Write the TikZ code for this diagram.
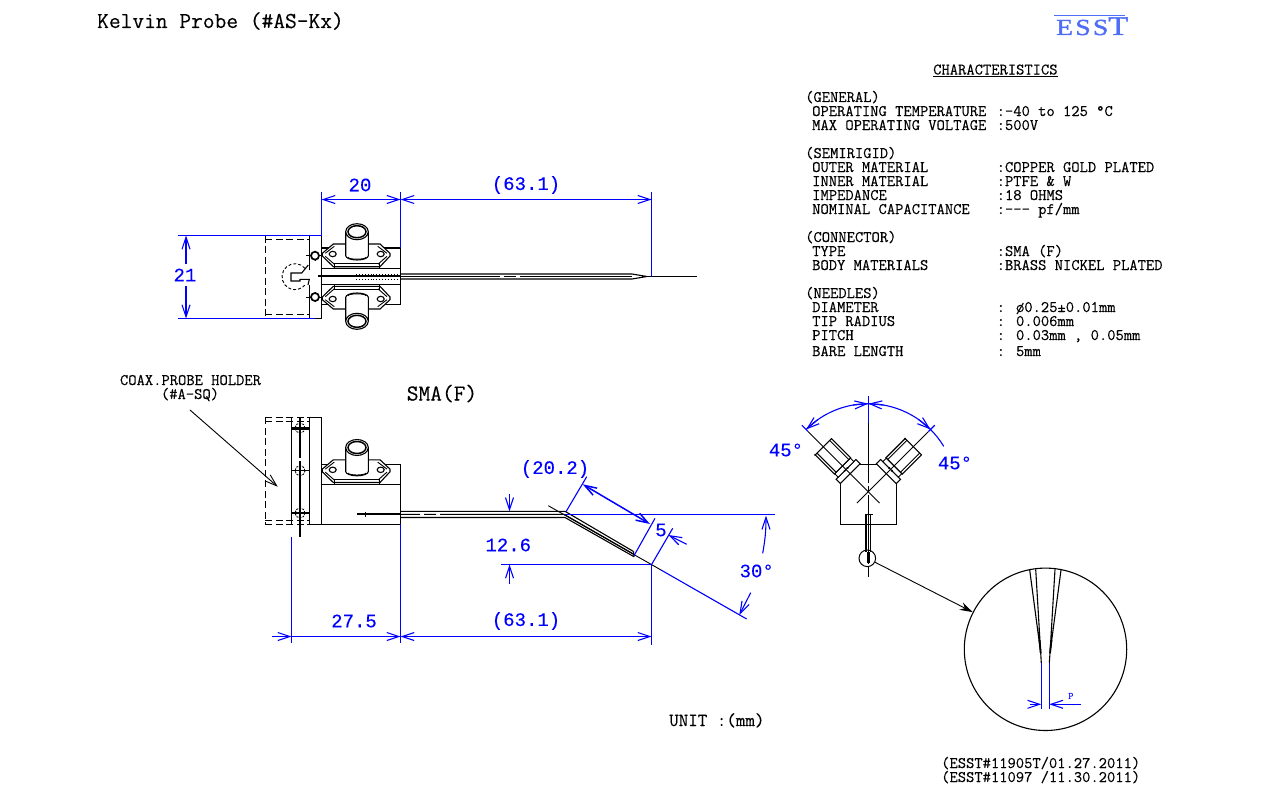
\documentclass[tikz,border=0pt]{standalone}
\usepackage{fontspec}
\newfontfamily\specfont[FakeBold=0.25]{Latin Modern Mono}
\newfontfamily\dimfont[FakeBold=0.15]{Liberation Mono}
\newfontfamily\logofont[LetterSpace=10,FakeStretch=1.2,FakeBold=1.6]{Liberation Serif}
\usetikzlibrary{arrows.meta}
\definecolor{dimblue}{RGB}{0,0,255}
\definecolor{logoblue}{RGB}{80,110,245}
\tikzset{
  part/.style={draw=black,line width=1.1pt},
  fine/.style={draw=black,line width=.9pt},
  hidden/.style={draw=black,line width=1.1pt,dash pattern=on 7pt off 3.5pt},
  dimline/.style={draw=dimblue,line width=1.1pt},
  dimtip/.style={dimline,-{Straight Barb[length=12pt,width=8pt]}},
  dimboth/.style={dimline,{Straight Barb[length=12pt,width=8pt]}-{Straight Barb[length=12pt,width=8pt]}},
  dimtext/.style={text=dimblue,inner sep=0pt,font=\fontsize{19}{19}\selectfont\dimfont},
  spec/.style={anchor=base west,inner sep=0pt,font=\fontsize{16.1}{16.1}\selectfont\specfont},
  title/.style={anchor=base,inner sep=0pt,font=\fontsize{22.8}{22.8}\selectfont\specfont},
  sma/.pic={
    % flange, then barrel on top of it
    \draw[part,fill=white] (-34.7,21.6)--(-23.7,12.3)--(23,12.3)--(33,21.6)--(33,24.3)--(23,35)--(-23.7,35)--(-34.7,24.3)--cycle;
    \draw[fine] (-31.7,21.6)--(-22.7,14.6) (20.7,14.6)--(30,21.6) (-31.7,24.6)--(-22.7,32.5) (21,32.5)--(30,24.6);
    \draw[part] (-22.7,31.8) rectangle (22.3,36.8);
    \draw[part] (-24.3,22.3) ellipse [x radius=3.5pt,y radius=2.7pt];
    \draw[part] (23.7,22.3) ellipse [x radius=3.5pt,y radius=2.7pt];
    \draw[part,fill=white] (-11.3,0)--(-11.3,24) arc[start angle=180,end angle=360,x radius=11.3pt,y radius=4.3pt]--(11.3,0);
    \draw[part,fill=white] (0,0) ellipse [x radius=11.3pt,y radius=8pt];
    \draw[line width=1.5pt] (0,0) ellipse [x radius=9pt,y radius=6pt];
    \draw[fine] (-9,25.5) arc[start angle=180,end angle=360,x radius=9pt,y radius=2pt];
  },
  bent/.pic={
    % one connector of the front view, along its axis
    \draw[part,fill=white] (25.5,-14) rectangle (31.5,14);
    \draw[fine,fill=white] (31.5,-11) rectangle (36.5,11);
    \draw[part,fill=white] (36.5,-11.5) rectangle (63.6,11.5);
    \draw[fine] (36.5,-9) -- (63.6,-9) (36.5,9) -- (63.6,9);
    \fill (31.5,-2) circle (1.2pt) (31.5,2) circle (1.2pt) (63.6,-11.5) circle (1.2pt);
    \draw[fine] (-16,0) -- (85,0);
    \draw[dimline] (85,0) -- (94,0);
  },
  screw/.pic={
    \draw[fine] (-9,0) -- (8,0) (0,-5) -- (0,5);
    \draw[line width=1.7pt,fill=white] (0,0) circle (4pt);
  },
  pin/.pic={
    \draw[fine,dash pattern=on 2pt off 1.2pt] (0,0) circle (5pt);
    \draw[part] (-9,0) -- (9,0) (0,-8) -- (0,8);
  }
}
\begin{document}
\begin{tikzpicture}[x=1pt,y=-1pt]
    \useasboundingbox (0,0) rectangle (1280,800);

    \node[title,anchor=base west] (pageTitle) at (97,28){Kelvin Probe (\#AS-Kx)};
    \node[inner sep=0pt,text=logoblue,anchor=base west,font=\fontsize{23}{23}\selectfont\logofont] (logo) at (1056,35){ESS\fontsize{27}{27}\selectfont T};
    \draw[draw=logoblue,line width=1.4pt] (1054,15.5)--(1125,15.5);

    % characteristics
    \node[spec] (specHead) at (933,74.5){\underline{CHARACTERISTICS}};
    \node[spec] (general) at (805,102){(GENERAL)};
    \node[spec] (opTemp) at (812,116){OPERATING TEMPERATURE};
    \node[spec] (opTempVal) at (996.5,116){:-40 to 125 °C};
    \node[spec] (opVolt) at (812,130){MAX OPERATING VOLTAGE};
    \node[spec] (opVoltVal) at (996.5,130){:500V};
    \node[spec] (semirigid) at (805,158){(SEMIRIGID)};
    \node[spec] (outer) at (812,172){OUTER MATERIAL};
    \node[spec] (outerVal) at (996.5,172){:COPPER GOLD PLATED};
    \node[spec] (inner) at (812,186){INNER MATERIAL};
    \node[spec] (innerVal) at (996.5,186){:PTFE \& W};
    \node[spec] (imped) at (812,200){IMPEDANCE};
    \node[spec] (impedVal) at (996.5,200){:18 OHMS};
    \node[spec] (capac) at (812,214){NOMINAL CAPACITANCE};
    \node[spec] (capacVal) at (996.5,214){:--{}- pf/mm};
    \node[spec] (connector) at (805,242){(CONNECTOR)};
    \node[spec] (type) at (812,256){TYPE};
    \node[spec] (typeVal) at (996.5,256){:SMA (F)};
    \node[spec] (body) at (812,270){BODY MATERIALS};
    \node[spec] (bodyVal) at (996.5,270){:BRASS NICKEL PLATED};
    \node[spec] (needles) at (805,298){(NEEDLES)};
    \node[spec] (diam) at (812,312){DIAMETER};
    \node[spec] (diamVal) at (996.5,312){: ø0.25±0.01mm};
    \node[spec] (radius) at (812,326){TIP RADIUS};
    \node[spec] (radiusVal) at (996.5,326){: 0.006mm};
    \node[spec] (pitch) at (812,340){PITCH};
    \node[spec] (pitchVal) at (996.5,340){: 0.03mm , 0.05mm};
    \node[spec] (bare) at (812,356){BARE LENGTH};
    \node[spec] (bareVal) at (996.5,356){: 5mm};

    % top view
    \draw[hidden] (265.3,235.5)--(265.3,318.3);
    \draw[hidden] (265.3,239.3)--(309.3,239.3) (265.3,314.3)--(309.3,314.3);
    \draw[part] (309.3,270)--(309.3,235.5)--(321.3,235.5)--(321.3,318.3)--(309.3,318.3)--(309.3,285);
    \draw[part] (321.3,248) rectangle (400.5,304.5);
    \draw[part] (321.3,268.7)--(400.5,268.7) (321.3,284.7)--(400.5,284.7);
    \draw[part] (318,276)--(400.5,276);
    \draw[fine,dotted] (356,274)--(397,274) (356,279)--(397,279);
    \pic at (357,231.7) {sma};
    \pic[yscale=-1] at (357,321.3) {sma};
    \pic at (315,255.7) {screw};
    \pic at (315,297) {screw};
    \draw[fine,dash pattern=on 3pt off 2pt] (305,268.3) arc[start angle=40,end angle=320,radius=13pt];
    \draw[part] (308.3,265)--(301.7,273)--(291,273)--(291,281)--(300,281)--(300,279.3)--(309.3,279.3)--(308,285);
    \draw[part] (400.5,274)--(632,274)--(647,276.5) (400.5,279)--(632,279)--(647,276.5);
    \draw[part] (400.5,276.5)--(500,276.5) (504,276.5)--(516,276.5) (520,276.5)--(632,276.5);
    \draw[part] (647,276.5)--(697,276.5);

    % top view dimensions
    \draw[dimline] (321.5,192)--(321.5,235.5) (400.5,192)--(400.5,248) (651.5,192)--(651.5,276.5);
    \draw[dimboth] (321.5,199.5)--(400.5,199.5);
    \draw[dimboth] (400.5,199.5)--(651.5,199.5);
    \node[dimtext] (dimTwenty) at (360,185){20};
    \node[dimtext] (dimLenTop) at (526,185){(63.1)};
    \draw[dimline] (178,235.5)--(321.5,235.5) (178,318.5)--(315,318.5);
    \draw[dimtip] (186,264)--(186,235.5);
    \draw[dimtip] (186,286)--(186,318.5);
    \node[dimtext] (dimHeight) at (185,275){21};

    % side view
    \draw[hidden] (265.3,417.3)--(265.3,524.3);
    \draw[hidden] (265.3,417.3)--(309.3,417.3) (265.3,421.3)--(309.3,421.3) (265.3,520.7)--(309.3,520.7) (265.3,524.3)--(309.3,524.3);
    \draw[part] (291.3,417.3)--(291.3,524.3);
    \draw[part] (309.3,417.3) rectangle (321.7,524.3);
    \draw[part] (321.7,464.3) rectangle (400.5,524.3);
    \draw[part] (321.7,484.3)--(400.5,484.3);
    \pic at (357,447.5) {sma};
    \draw[line width=1.6pt] (291.3,429)--(309.3,429);
    \pic at (300,428) {pin};
    \pic at (300,470.7) {pin};
    \pic at (300,513) {pin};
    \draw[line width=1.5pt,dash pattern=on 40pt off 3pt on 4pt off 3pt] (300,418)--(300,537);
    \draw[part] (357,514)--(400.5,514) (365.5,511.5)--(365.5,516.5);
    \draw[part] (400.5,511.3)--(565,511.3)--(633.5,551.5);
    \draw[part] (400.5,517.5)--(565,517.5)--(634,556.7);
    \draw[part] (400.5,514.3)--(420,514.3) (424,514.3)--(436,514.3) (440,514.3)--(564,514.3)--(634,554.3);
    \draw[part] (633.5,551.5)--(634,556.7);
    \draw[fine] (548.3,505.7)--(661,570);
    \draw[dimline] (661,570)--(746.7,619);

    % side view dimensions
    \draw[dimline] (291.5,537)--(291.5,643) (400.5,524.3)--(400.5,643) (651.5,564.5)--(651.5,644.5);
    \draw[dimtip] (272,636.5)--(291.5,636.5);
    \draw[dimtip] (291.5,636.5)--(400.5,636.5);
    \node[dimtext] (dimReach) at (354,621){27.5};
    \draw[dimboth] (400.5,636.5)--(651.5,636.5);
    \node[dimtext] (dimLenSide) at (526,621){(63.1)};
    \draw[dimline] (565,514.5)--(775,514.5);
    \draw[dimtip] (509.5,494.3)--(509.5,511.3);
    \draw[dimtip] (509.5,584.3)--(509.5,564.5);
    \draw[dimline] (501,564.5)--(651.5,564.5);
    \node[dimtext] (dimDrop) at (508.3,545){12.6};
    \draw[dimline] (566,511.7)--(586.7,476.7) (655,518.3)--(634,555.7) (672.7,528.3)--(651.7,564.3);
    \draw[dimboth,line width=1.5pt] (582.7,484.3)--(650,524);
    \node[dimtext] (dimBend) at (555,469){(20.2)};
    \draw[dimtip] (686.7,544.3)--(668.3,535);
    \node[dimtext] (dimBare) at (661,530){5};
    \draw[dimtip] (762.7,553.3) to[bend right=5] (766,515.7);
    \draw[dimtip] (750.7,592.7)--(739.3,615);
    \node[dimtext] (dimAngle) at (756.7,571){30°};

    \node[spec,anchor=base] (holder) at (190.5,385){COAX.PROBE HOLDER};
    \node[spec,anchor=base] (holderRef) at (190,399){(\#A-SQ)};
    \draw[fine,-{Straight Barb[length=12pt,width=8pt]}] (190,410)--(277.7,486.7);
    \node[title] (sma) at (442,400.5){SMA(F)};
    \node[spec,font=\fontsize{18.5}{18.5}\selectfont\specfont] (unit) at (669,726){UNIT :(mm)};

    % front view
    \draw[part] (840.3,484.3)--(840.3,524.3)--(896.7,524.3)--(896.7,484.3);
    \draw[part] (859.3,464.3)--(877.3,464.3);
    \pic[rotate=135] at (868.3,491.7) {bent};
    \pic[rotate=45] at (868.3,491.7) {bent};
    \draw[dimline] (868.3,396)--(868.3,423);
    \draw[part,dash pattern=on 60pt off 3pt on 6pt off 3pt] (868.3,423)--(868.3,576.7);
    \draw[part] (865,514.3)--(872.7,514.3) (866,514.3)--(866,552) (870.7,514.3)--(870.7,552);
    \draw[line width=2.4pt] (868.3,552)--(868.3,563);
    \node[inner sep=0pt,minimum size=16.6pt,circle,draw=black,line width=1pt] (detail) at (867.3,558.3){};
    \node[inner sep=0pt,minimum size=162.4pt,circle,draw=black,line width=1.1pt] (zoomCircle) at (1045.5,649.3){};
    \draw[fine,-{Stealth[length=13pt,width=8pt]}] (detail)--(zoomCircle);

    \draw[dimline] (868.3,403.7) arc[start angle=90,end angle=31,radius=88pt];
    \draw[dimline] (868.3,403.7) arc[start angle=90,end angle=135,radius=88pt];
    \foreach \ang/\dir in {90/-1,90/1,135/-1,45/1}{
      \draw[dimtip] ({868.3+88*cos(\ang+\dir*10)},{491.7-88*sin(\ang+\dir*10)}) -- ({868.3+88*cos(\ang)},{491.7-88*sin(\ang)});
    }
    \node[dimtext] (dimLeftAng) at (786,450){45°};
    \node[dimtext] (dimRightAng) at (955,463){45°};

    % needle detail
    \draw[part] (1029.7,570)--(1040.7,653)--(1035.7,569.3);
    \draw[part] (1061,570)--(1050,653)--(1055,569.3);
    \draw[line width=1.8pt] (1039.5,640)--(1040.7,653) (1051.5,640)--(1050,653);
    \draw[part] (1040.7,653)--(1041.3,663) (1050,653)--(1049.3,663);
    \draw[dimline] (1041.3,663)--(1041.3,709.3) (1049.3,663)--(1049.3,709.3);
    \draw[dimtip] (1030,704.3)--(1041.3,704.3);
    \draw[dimtip] (1081,704.3)--(1049.3,704.3);
    \node[inner sep=0pt,text=dimblue,font=\fontsize{10}{10}\selectfont\bfseries\ttfamily] (pitchMark) at (1071,696){P};

    \node[spec] (ref1) at (941,768){(ESST\#11905T/01.27.2011)};
    \node[spec] (ref2) at (941,782){(ESST\#11097 /11.30.2011)};
\end{tikzpicture}
\end{document}
